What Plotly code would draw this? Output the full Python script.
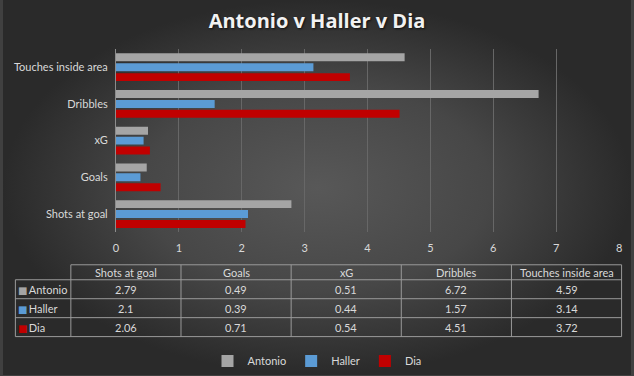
import plotly.graph_objects as go

# ---- data ----
categories = ["Shots at goal", "Goals", "xG", "Dribbles", "Touches inside area"]
players = ["Antonio", "Haller", "Dia"]
antonio = [2.79, 0.49, 0.51, 6.72, 4.59]
haller = [2.1, 0.39, 0.44, 1.57, 3.14]
dia = [2.06, 0.71, 0.54, 4.51, 3.72]
x_ticks = [0, 1, 2, 3, 4, 5, 6, 7, 8]

colors = {"Antonio": "#a5a5a5", "Haller": "#5b9bd5", "Dia": "#c00000"}
series = {"Antonio": antonio, "Haller": haller, "Dia": dia}

W, H = 634, 376
FONT = "Lato"
TXT = "#d9d9d9"
GRID = "#9a9a9a"

fig = go.Figure()

# background radial gradient (decorative) on a full-paper helper axis
fig.add_trace(go.Scatter(
    x=[0, 1, 1, 0, 0], y=[0, 0, 1, 1, 0], mode="none", fill="toself",
    fillgradient=dict(type="radial", colorscale=[[0, "#585858"], [0.55, "#474747"], [1, "#2a2a2a"]]),
    xaxis="x", yaxis="y", showlegend=False, hoverinfo="skip"))

# bars: drawn bottom-to-top inside group -> Dia first
for name in ["Dia", "Haller", "Antonio"]:
    fig.add_trace(go.Bar(
        y=categories, x=series[name], orientation="h", name=name,
        marker=dict(color=colors[name], line=dict(width=0)),
        xaxis="x2", yaxis="y2"))

# ---- data table (shapes + text) ----
def px(x):
    return x / W

def py(y):
    return 1 - y / H

T_LEFT, LABEL_R, T_RIGHT = 12.5, 68.5, 624.5
col_w = (T_RIGHT - LABEL_R) / len(categories)
col_edges = [LABEL_R + i * col_w for i in range(len(categories) + 1)]
HEAD_TOP, HEAD_BOT, ROW_H = 265.5, 280.5, 19
row_edges = [HEAD_BOT + i * ROW_H for i in range(len(players) + 1)]
line = dict(color=GRID, width=1)
shapes = []
shapes.append(dict(type="line", xref="paper", yref="paper", x0=px(LABEL_R), x1=px(T_RIGHT),
                   y0=py(HEAD_TOP), y1=py(HEAD_TOP), line=line))
for ye in row_edges:
    shapes.append(dict(type="line", xref="paper", yref="paper", x0=px(T_LEFT), x1=px(T_RIGHT),
                       y0=py(ye), y1=py(ye), line=line))
shapes.append(dict(type="line", xref="paper", yref="paper", x0=px(T_LEFT), x1=px(T_LEFT),
                   y0=py(HEAD_BOT), y1=py(row_edges[-1]), line=line))
for xe in col_edges:
    shapes.append(dict(type="line", xref="paper", yref="paper", x0=px(xe), x1=px(xe),
                       y0=py(HEAD_TOP), y1=py(row_edges[-1]), line=line))

annotations = []
tfont = dict(family=FONT, size=11, color=TXT)
for i, cat in enumerate(categories):
    cx = (col_edges[i] + col_edges[i + 1]) / 2
    annotations.append(dict(text=cat, x=px(cx), y=py((HEAD_TOP + HEAD_BOT) / 2),
                            xref="paper", yref="paper", showarrow=False,
                            xanchor="center", yanchor="middle", font=tfont))
for r, p in enumerate(players):
    cy = (row_edges[r] + row_edges[r + 1]) / 2
    annotations.append(dict(
        text=f"<span style='color:{colors[p]};font-size:10px;font-family:DejaVu Sans'>■</span>\u2009{p}",
        x=px(T_LEFT + 1), y=py(cy), xref="paper", yref="paper", showarrow=False,
        xanchor="left", yanchor="middle", font=tfont))
    for i in range(len(categories)):
        cx = (col_edges[i] + col_edges[i + 1]) / 2
        annotations.append(dict(text=str(series[p][i]), x=px(cx), y=py(cy),
                                xref="paper", yref="paper", showarrow=False,
                                xanchor="center", yanchor="middle", font=tfont))

fig.update_layout(
    width=W, height=H, autosize=False,
    margin=dict(l=0, r=0, t=0, b=0),
    paper_bgcolor="#404040", plot_bgcolor="rgba(0,0,0,0)",
    font=dict(family=FONT, size=11, color=TXT),
    title=dict(text="<b>Antonio v Haller v Dia</b>", x=0.5, xanchor="center",
               y=1 - 21 / H, yanchor="middle",
               font=dict(family="Open Sans", size=20, color="#f2f2f2",
                         shadow="1px 1px 2px #111")),
    barmode="group", bargap=0.19, bargroupgap=0.2,
    xaxis=dict(domain=[0, 1], range=[0, 1], visible=False, fixedrange=True),
    yaxis=dict(domain=[0, 1], range=[0, 1], visible=False, fixedrange=True),
    xaxis2=dict(domain=[114 / W, 622 / W], range=[0, 8], tickvals=x_ticks,
                anchor="y2", showgrid=True, gridcolor="#676767", gridwidth=1,
                zeroline=False, showline=False, ticks="",
                ticklabelstandoff=8,
                tickfont=dict(family=FONT, size=11, color=TXT)),
    yaxis2=dict(domain=[1 - 233 / H, 1 - 49 / H], anchor="x2",
                categoryorder="array", categoryarray=categories,
                showline=True, linecolor="#8c8c8c", linewidth=1,
                showgrid=False, ticks="", ticklabelstandoff=5,
                tickfont=dict(family=FONT, size=11, color=TXT)),
    legend=dict(orientation="h", x=0.5, xanchor="center", y=1 - 362 / H,
                yanchor="middle", traceorder="reversed",
                bgcolor="rgba(0,0,0,0)", itemwidth=30,
                font=dict(family=FONT, size=11, color=TXT)),
    shapes=shapes, annotations=annotations,
)

fig.write_html("out.html", config={"displayModeBar": False},
               post_script="document.body.style.margin='0';document.body.style.overflow='hidden';")
